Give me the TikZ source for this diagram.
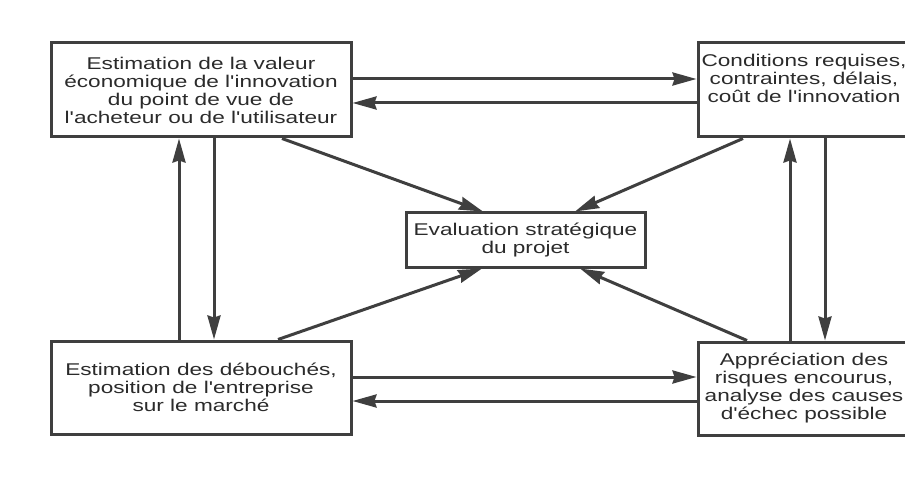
\documentclass[tikz,border=0pt]{standalone}
\usepackage{fontspec}
\setmainfont{Liberation Sans}[FakeStretch=1.33,Ligatures=TeXOff]
\usetikzlibrary{arrows.meta}
\definecolor{ink}{HTML}{3F3F3F}
\definecolor{txt}{HTML}{2B2B2B}
\tikzset{
  box/.style={draw=ink, line width=3pt, fill=white, inner sep=0pt, align=center,
    text=txt, font=\fontsize{17}{18}\selectfont},
  arr/.style={draw=ink, line width=3pt, -{Stealth[length=24pt,width=13pt,inset=2pt]}},
}
\begin{document}
\begin{tikzpicture}[x=1pt,y=-1pt]
\useasboundingbox (0,0) rectangle (905,481);
\clip (0,0) rectangle (905,481);
\fill[white] (0,0) rectangle (905,481);
% nodes
\node[box, minimum width=300pt, minimum height=94pt] (tl) at (201,90)
  {Estimation de la valeur\\économique de l'innovation\\du point de vue de\\l'acheteur ou de l'utilisateur};
\node[box, minimum width=212pt, minimum height=94pt] (tr) at (804,90)
  {Conditions requises,\\contraintes, délais,\\coût de l'innovation\\\strut};
\node[box, minimum width=300pt, minimum height=93pt] (bl) at (201,387.5)
  {Estimation des débouchés,\\position de l'entreprise\\sur le marché};
\node[box, minimum width=212pt, minimum height=93pt] (br) at (804,388.5)
  {Appréciation des\\risques encourus,\\analyse des causes\\d'échec possible};
\node[box, minimum width=239pt, minimum height=54pt] (c) at (525.5,240)
  {Evaluation stratégique\\du projet};
% horizontal connectors
\draw[arr] ([yshift=11pt]tl.east) -- ([yshift=11pt]tl.east -| tr.west);
\draw[arr] ([yshift=-13pt]tr.west) -- ([yshift=-13pt]tr.west -| tl.east);
\draw[arr] ([yshift=10.5pt]bl.east) -- ([yshift=10.5pt]bl.east -| br.west);
\draw[arr] ([yshift=-12.5pt]br.west) -- ([yshift=-12.5pt]br.west -| bl.east);
% vertical connectors
\draw[arr] ([xshift=-22pt]bl.north) -- ([xshift=-22pt]tl.south);
\draw[arr] ([xshift=13pt]tl.south) -- ([xshift=13pt]bl.north);
\draw[arr] ([xshift=-14pt]br.north) -- ([xshift=-14pt]tr.south);
\draw[arr] ([xshift=21pt]tr.south) -- ([xshift=21pt]br.north);
% diagonal connectors
\draw[arr] ([xshift=81pt]tl.south) -- ([xshift=-42.5pt]c.north);
\draw[arr] ([xshift=-61pt]tr.south) -- ([xshift=49.5pt]c.north);
\draw[arr] ([xshift=77pt]bl.north) -- ([xshift=-43.5pt]c.south);
\draw[arr] ([xshift=-57pt]br.north) -- ([xshift=54.5pt]c.south);
\end{tikzpicture}
\end{document}
